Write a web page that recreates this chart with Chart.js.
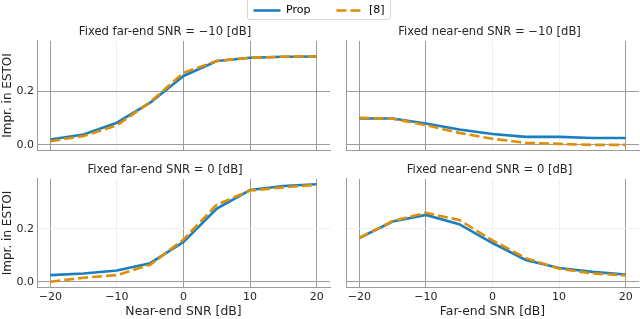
<!DOCTYPE html>
<html>
<head>
<meta charset="utf-8">
<script src="https://cdn.jsdelivr.net/npm/chart.js@4.4.0/dist/chart.umd.min.js"></script>
<style>
  body { margin: 0; width: 640px; height: 319px; background: #fff; position: relative; overflow: hidden; }
  canvas { position: absolute; }
  #legframe { position: absolute; left: 247px; top: -3px; width: 144px; height: 23px;
              border: 1px solid #d6d6d6; border-radius: 3px; box-sizing: border-box; }
</style>
</head>
<body>
<div id="legframe"></div>
<canvas id="tl" width="332" height="128" style="left:0px;top:24px"></canvas>
<canvas id="tr" width="300" height="128" style="left:340px;top:24px"></canvas>
<canvas id="bl" width="332" height="157" style="left:0px;top:162px"></canvas>
<canvas id="br" width="300" height="157" style="left:340px;top:162px"></canvas>
<canvas id="leg" width="200" height="80" style="left:219px;top:-21px"></canvas>
<script>
// SNR steps (dB) on the x axis
const snr = [-20, -15, -10, -5, 0, 5, 10, 15, 20];

// fixed far-end SNR = -10 dB, sweep near-end
const propFarM10 = [0.020, 0.039, 0.083, 0.158, 0.258, 0.314, 0.326, 0.330, 0.331];
const refFarM10  = [0.014, 0.033, 0.073, 0.160, 0.270, 0.314, 0.326, 0.330, 0.331];
// fixed near-end SNR = -10 dB, sweep far-end
const propNearM10 = [0.099, 0.099, 0.080, 0.058, 0.041, 0.030, 0.030, 0.026, 0.026];
const refNearM10  = [0.101, 0.098, 0.074, 0.045, 0.023, 0.008, 0.004, 0.000, 0.000];
// fixed far-end SNR = 0 dB
const propFar0 = [0.026, 0.032, 0.043, 0.071, 0.151, 0.277, 0.347, 0.362, 0.369];
const refFar0  = [0.001, 0.016, 0.026, 0.065, 0.160, 0.292, 0.345, 0.357, 0.367];
// fixed near-end SNR = 0 dB
const propNear0 = [0.166, 0.228, 0.253, 0.218, 0.147, 0.083, 0.053, 0.038, 0.028];
const refNear0  = [0.166, 0.230, 0.261, 0.234, 0.157, 0.090, 0.050, 0.032, 0.025];

const xTicks = [-20, -10, 0, 10, 20];
const yTicks = [0, 0.2];

const blue = '#1a7fc1';
const orange = '#de8f05';
const gridDark = '#9c9c9c';
const gridFaint = '#eeeeee';
const ink = '#262626';
const fam = 'DejaVu Sans';
const dash = [10, 4];

function series(ys) {
  return snr.map((x, i) => ({ x: x, y: ys[i] }));
}

function datasets(prop, ref) {
  return [
    { label: 'Prop', data: series(prop), borderColor: blue, backgroundColor: blue,
      borderWidth: 2.6, pointRadius: 0, tension: 0, order: 2 },
    { label: '[8]', data: series(ref), borderColor: orange, backgroundColor: orange,
      borderWidth: 2.6, borderDash: dash, pointRadius: 0, tension: 0, order: 1 }
  ];
}

function makePlot(id, title, prop, ref, o) {
  new Chart(document.getElementById(id), {
    type: 'line',
    data: { datasets: datasets(prop, ref) },
    options: {
      responsive: false,
      animation: false,
      layout: { padding: { right: o.padRight } },
      plugins: {
        legend: { display: false },
        tooltip: { enabled: false },
        title: { display: true, text: title, color: ink,
                 font: { family: fam, size: 11.6, weight: 'normal' }, padding: { top: 1, bottom: 2 } }
      },
      scales: {
        x: {
          type: 'linear', min: -22, max: 22,
          afterBuildTicks: s => { s.ticks = xTicks.map(v => ({ value: v })); },
          afterFit: s => { s.height = o.bottom ? 32 : 2; s.paddingLeft = 0; s.paddingRight = 0; },
          grid: { drawTicks: false, color: c => o.faintX.includes(c.tick && c.tick.value) ? gridFaint : gridDark },
          border: { color: gridDark },
          ticks: { display: o.bottom, padding: 4, color: ink, font: { family: fam, size: 11 },
                   callback: v => String(v).replace('-', '\u2212') },
          title: { display: o.bottom, text: o.xTitle, color: ink, font: { family: fam, size: 12.4 }, padding: 0 }
        },
        y: {
          min: -0.019, max: 0.389,
          afterBuildTicks: s => { s.ticks = yTicks.map(v => ({ value: v })); },
          afterFit: s => { s.width = o.left ? 37 : 6; s.paddingTop = 0; s.paddingBottom = 0; },
          grid: { drawTicks: false, color: c => o.faintY.includes(c.tick && c.tick.value) ? gridFaint : gridDark },
          border: { color: gridDark },
          ticks: { display: o.left, padding: 3, color: ink, font: { family: fam, size: 11 },
                   callback: v => v.toFixed(1) },
          title: { display: o.left, text: 'Impr. in ESTOI', color: ink, font: { family: fam, size: 12 },
                   padding: { top: 1, bottom: 0 } }
        }
      }
    }
  });
}

makePlot('tl', 'Fixed far-end SNR = \u221210 [dB]', propFarM10, refFarM10,
  { left: true, bottom: false, padRight: 2, faintX: [-10], faintY: [] });
makePlot('tr', 'Fixed near-end SNR = \u221210 [dB]', propNearM10, refNearM10,
  { left: false, bottom: false, padRight: 1, faintX: [0, 10], faintY: [] });
makePlot('bl', 'Fixed far-end SNR = 0 [dB]', propFar0, refFar0,
  { left: true, bottom: true, padRight: 2, xTitle: 'Near-end SNR [dB]', faintX: [-10], faintY: [0.2] });
makePlot('br', 'Fixed near-end SNR = 0 [dB]', propNear0, refNear0,
  { left: false, bottom: true, padRight: 1, xTitle: 'Far-end SNR [dB]', faintX: [0, 10], faintY: [0.2] });

// shared legend on its own transparent canvas
new Chart(document.getElementById('leg'), {
  type: 'line',
  data: { datasets: datasets([], []) },
  options: {
    responsive: false,
    animation: false,
    layout: { padding: 0 },
    scales: { x: { display: false }, y: { display: false } },
    plugins: {
      tooltip: { enabled: false },
      legend: {
        display: true, position: 'top', maxHeight: 200,
        labels: {
          usePointStyle: true, pointStyleWidth: 27, boxHeight: 8, padding: 26,
          color: ink, font: { family: fam, size: 11 },
          generateLabels: chart => chart.data.datasets.map((d, i) => ({
            text: d.label, strokeStyle: d.borderColor, fillStyle: d.borderColor,
            lineWidth: d.borderWidth, lineDash: d.borderDash || [], pointStyle: 'line',
            datasetIndex: i, hidden: false
          }))
        }
      }
    }
  }
});
</script>
</body>
</html>
